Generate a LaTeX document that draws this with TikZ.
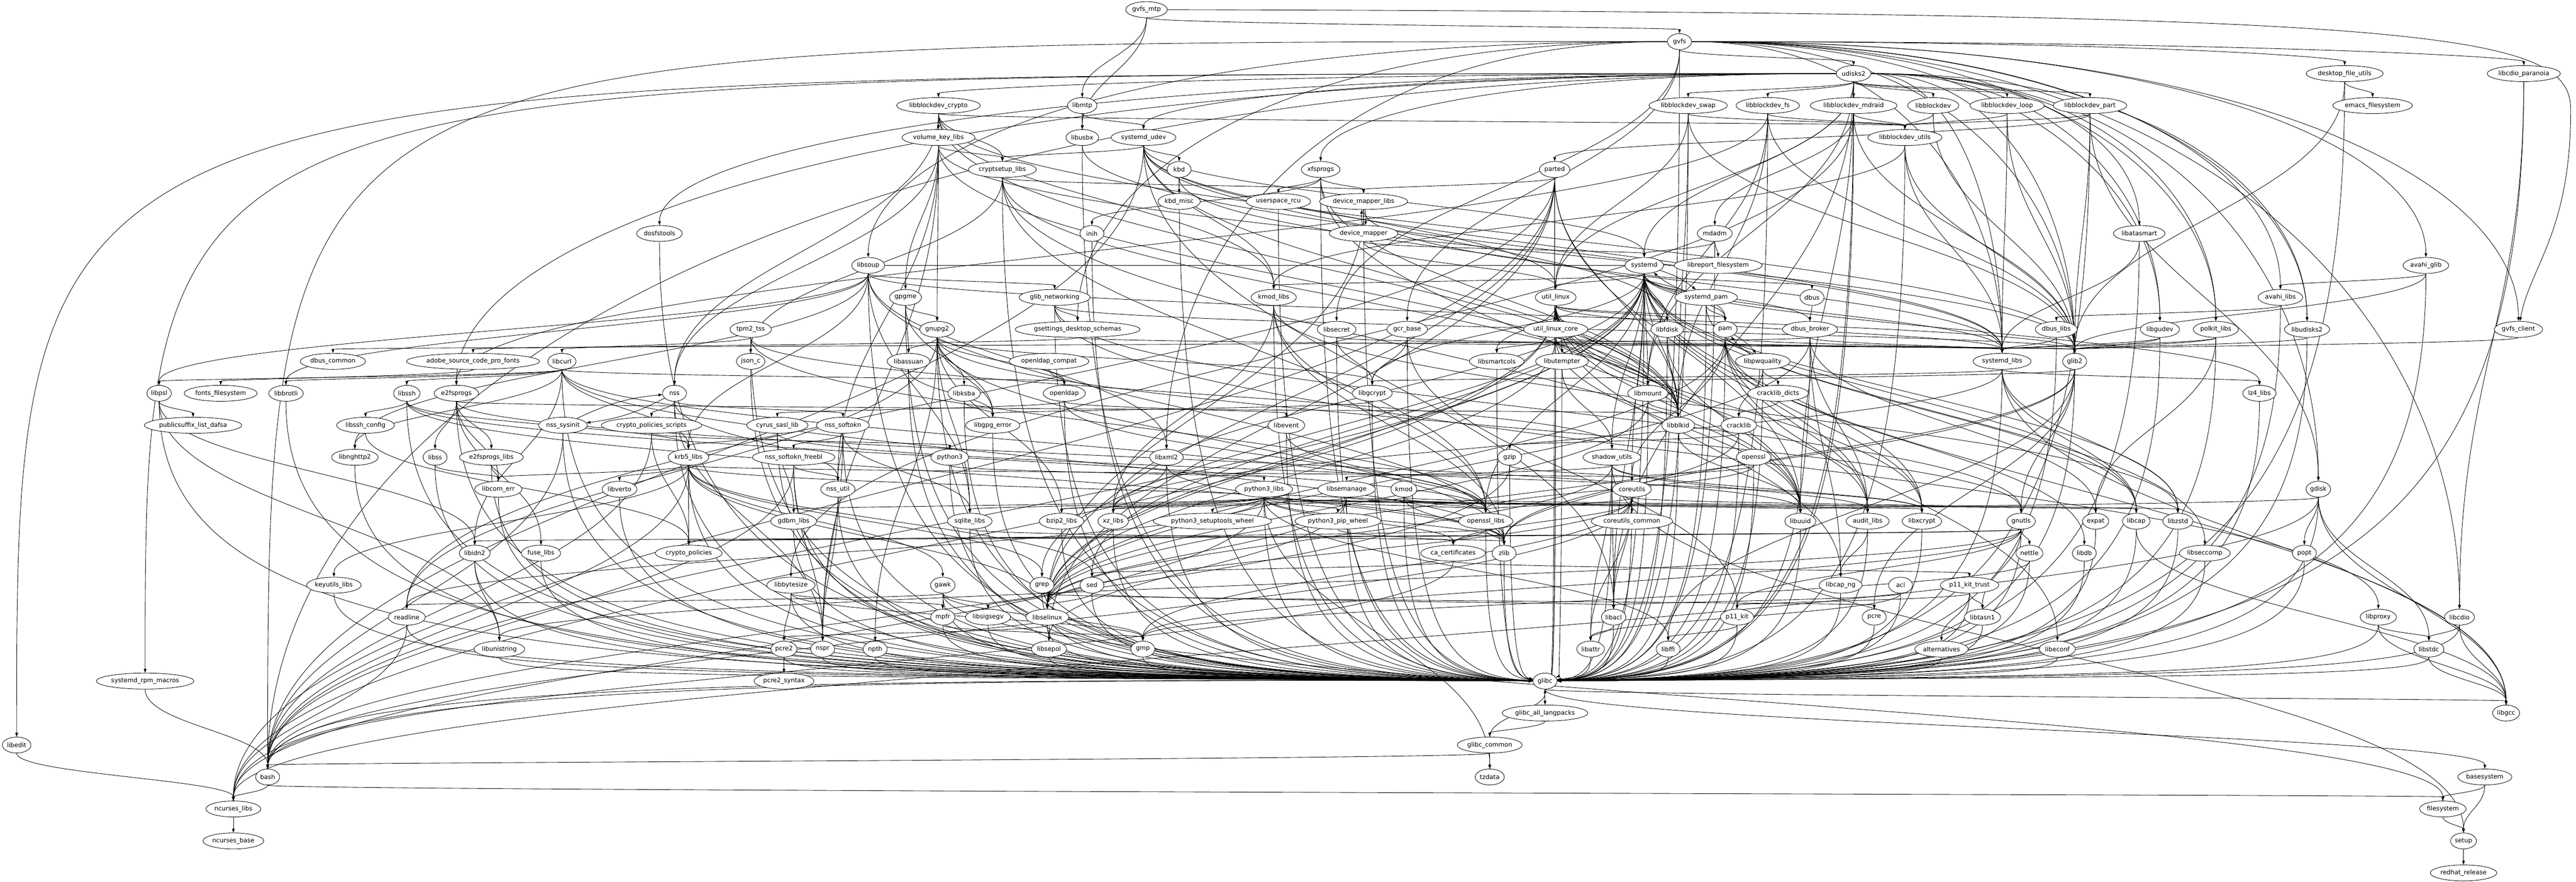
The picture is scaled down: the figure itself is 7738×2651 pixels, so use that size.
\documentclass[tikz,border=0pt]{standalone}
\usepackage{fontspec}
\setmainfont{DejaVu Sans}
\usetikzlibrary{shapes.geometric,arrows.meta,calc}
\pgfdeclarelayer{bg}
\pgfsetlayers{bg,main}
\newcommand\nd[3]{\node[pk] (#1) at (#2,{-(29+96.1*#3)}) {\detokenize{#1}};}
\newcommand\E[2]{\foreach \myh in {#2}{\draw[e] let \p1=(#1), \p2=(\myh), \n1={0.45*(\y1-\y2)}, \n2={-0.45*(\y1-\y2)} in (#1) .. controls +(0pt,\n2) and +(0pt,\n1) .. (\myh);}}
\newcommand\Sw[2]{\foreach \myh in {#2}{\draw[e] let \p1=(#1), \p2=(\myh), \n1={0.5*(\y1-\y2)}, \n3={0.7*(\x2-\x1)} in (#1) .. controls +(\n3,0pt) and +(0pt,\n1) .. (\myh);}}
\newcommand\G[1]{\foreach \myt in {#1}{\draw[e] let \p1=(\myt), \p2=(glibc), \n1={-0.85*(\y1-\y2)}, \n2={-0.75*(\x2-\x1)} in (\myt) .. controls +(0pt,\n1) and +(\n2,10pt) .. (glibc);}}
\newcommand\Lr[2]{\draw[e] let \p1=(#1), \p2=(#2) in (#1) .. controls (\x2,\y1) and (\x2,\y1) .. (#2);}
\newcommand\M[2]{\draw[e] (#1) to[bend left=10] (#2); \draw[e] (#2) to[bend left=10] (#1);}
\begin{document}
\begin{tikzpicture}[x=0.749pt,y=0.749pt,
  pk/.style={ellipse,draw,line width=1pt,fill=white,inner xsep=1pt,inner ysep=1pt,minimum width=54pt,minimum height=36pt,font=\fontsize{14}{16}\selectfont},
  e/.style={line width=1pt,-{Triangle[length=9pt,width=6pt]}}]
\useasboundingbox (0,0) rectangle (7738,-2651);
% rank 0-2
\nd{gvfs_mtp}{3444}{0}
\nd{gvfs}{5045}{1}
\nd{udisks2}{5568}{2}
\nd{desktop_file_utils}{7043}{2}
\nd{libcdio_paranoia}{7581}{2}
% rank 3
\nd{libblockdev_crypto}{2819}{3}
\nd{libmtp}{3251}{3}
\nd{libblockdev_swap}{5071}{3}
\nd{libblockdev_fs}{5310}{3}
\nd{libblockdev_mdraid}{5568}{3}
\nd{libblockdev}{5807}{3}
\nd{libblockdev_loop}{6029}{3}
\nd{libblockdev_part}{6278}{3}
\nd{emacs_filesystem}{7127}{3}
% rank 4
\nd{volume_key_libs}{2819}{4}
\nd{libusbx}{3251}{4}
\nd{systemd_udev}{3435}{4}
\nd{libblockdev_utils}{5722}{4}
% rank 5
\nd{cryptsetup_libs}{3011}{5}
\nd{kbd}{3542}{5}
\nd{xfsprogs}{3967}{5}
\nd{parted}{4670}{5}
% rank 6
\nd{kbd_misc}{3542}{6}
\nd{userspace_rcu}{3840}{6}
\nd{device_mapper_libs}{4096}{6}
% rank 7
\nd{dosfstools}{1981}{7}
\nd{inih}{3280}{7}
\nd{device_mapper}{4096}{7}
\nd{mdadm}{5151}{7}
\nd{libatasmart}{6426}{7}
% rank 8
\nd{libsoup}{2608}{8}
\nd{systemd}{4939}{8}
\nd{libreport_filesystem}{5161}{8}
\nd{avahi_glib}{7287}{8}
% rank 9
\nd{gpgme}{2720}{9}
\nd{glib_networking}{3168}{9}
\nd{kmod_libs}{3826}{9}
\nd{util_linux}{4673}{9}
\nd{systemd_pam}{5125}{9}
\nd{dbus}{5443}{9}
\nd{avahi_libs}{6850}{9}
% rank 10
\nd{tpm2_tss}{2255}{10}
\nd{gnupg2}{2815}{10}
\nd{gsettings_desktop_schemas}{3237}{10}
\nd{libsecret}{4015}{10}
\nd{gcr_base}{4227}{10}
\nd{util_linux_core}{4673}{10}
\nd{libfdisk}{5008}{10}
\nd{pam}{5182}{10}
\nd{dbus_broker}{5437}{10}
\nd{dbus_libs}{6177}{10}
\nd{libgudev}{6488}{10}
\nd{polkit_libs}{6656}{10}
\nd{libudisks2}{6930}{10}
\nd{gvfs_client}{7565}{10}
% rank 11
\nd{dbus_common}{1000}{11}
\nd{adobe_source_code_pro_fonts}{1421}{11}
\nd{libcurl}{1688}{11}
\nd{json_c}{2255}{11}
\nd{libassuan}{2729}{11}
\nd{openldap_compat}{3151}{11}
\nd{libsmartcols}{4496}{11}
\nd{libutempter}{4692}{11}
\nd{libpwquality}{5295}{11}
\nd{systemd_libs}{6014}{11}
\nd{glib2}{6232}{11}
% rank 12
\nd{libpsl}{478}{12}
\nd{fonts_filesystem}{663}{12}
\nd{libbrotli}{859}{12}
\nd{libssh}{1222}{12}
\nd{e2fsprogs}{1371}{12}
\nd{nss}{2026}{12}
\nd{libksba}{2896}{12}
\nd{openldap}{3197}{12}
\nd{libgcrypt}{4122}{12}
\nd{libmount}{4950}{12}
\nd{cracklib_dicts}{5341}{12}
\nd{lz4_libs}{6787}{12}
% rank 13
\nd{publicsuffix_list_dafsa}{580}{13}
\nd{libssh_config}{1098}{13}
\nd{nss_sysinit}{1691}{13}
\nd{crypto_policies_scripts}{1957}{13}
\nd{cyrus_sasl_lib}{2335}{13}
\nd{nss_softokn}{2532}{13}
\nd{libgpg_error}{2982}{13}
\nd{libevent}{3864}{13}
\nd{libblkid}{5041}{13}
\nd{cracklib}{5223}{13}
% rank 14
\nd{libnghttp2}{1066}{14}
\nd{libss}{1307}{14}
\nd{e2fsprogs_libs}{1476}{14}
\nd{krb5_libs}{2068}{14}
\nd{nss_softokn_freebl}{2384}{14}
\nd{python3}{2853}{14}
\nd{libxml2}{3504}{14}
\nd{gzip}{4535}{14}
\nd{shadow_utils}{4842}{14}
\nd{openssl}{5268}{14}
% rank 15
\nd{libcom_err}{1497}{15}
\nd{libverto}{1861}{15}
\nd{nss_util}{2517}{15}
\nd{python3_libs}{3797}{15}
\nd{libsemanage}{4045}{15}
\nd{kmod}{4217}{15}
\nd{coreutils}{4902}{15}
\nd{gdisk}{6964}{15}
% rank 16
\nd{gdbm_libs}{2384}{16}
\nd{sqlite_libs}{2913}{16}
\nd{bzip2_libs}{3189}{16}
\nd{xz_libs}{3344}{16}
\nd{python3_setuptools_wheel}{3642}{16}
\nd{python3_pip_wheel}{4019}{16}
\nd{openssl_libs}{4463}{16}
\nd{coreutils_common}{4902}{16}
\nd{libuuid}{5408}{16}
\nd{audit_libs}{5610}{16}
\nd{libxcrypt}{5773}{16}
\nd{gnutls}{6071}{16}
\nd{expat}{6295}{16}
\nd{libcap}{6417}{16}
\nd{libzstd}{6542}{16}
% rank 17
\nd{libidn2}{1426}{17}
\nd{fuse_libs}{1625}{17}
\nd{crypto_policies}{2069}{17}
\nd{ca_certificates}{4365}{17}
\nd{zlib}{4518}{17}
\nd{nettle}{6096}{17}
\nd{libdb}{6261}{17}
\nd{libseccomp}{6623}{17}
\nd{popt}{6922}{17}
% rank 18
\nd{keyutils_libs}{1003}{18}
\nd{libbytesize}{2376}{18}
\nd{gawk}{2832}{18}
\nd{grep}{3130}{18}
\nd{sed}{3280}{18}
\nd{libcap_ng}{5529}{18}
\nd{acl}{5709}{18}
\nd{p11_kit_trust}{5916}{18}
% rank 19
\nd{readline}{1222}{19}
\nd{mpfr}{2832}{19}
\nd{libsigsegv}{2968}{19}
\nd{libselinux}{3146}{19}
\nd{libacl}{4847}{19}
\nd{p11_kit}{5218}{19}
\nd{pcre}{5630}{19}
\nd{libtasn1}{5955}{19}
\nd{libproxy}{7144}{19}
\nd{libcdio}{7388}{19}
% rank 20
\nd{libunistring}{1500}{20}
\nd{pcre2}{2355}{20}
\nd{nspr}{2471}{20}
\nd{npth}{2629}{20}
\nd{libsepol}{3151}{20}
\nd{gmp}{3433}{20}
\nd{libattr}{4778}{20}
\nd{libffi}{5011}{20}
\nd{alternatives}{5832}{20}
\nd{libeconf}{6180}{20}
\nd{libstdc}{7296}{20}
% rank 21-27
\nd{systemd_rpm_macros}{436}{21}
\nd{pcre2_syntax}{2355}{21}
\nd{glibc}{4641}{21}
\nd{glibc_all_langpacks}{4641}{22}
\nd{libgcc}{7528}{22}
\nd{libedit}{50}{23}
\nd{glibc_common}{4475}{23}
\nd{bash}{804}{24}
\nd{tzdata}{4475}{24}
\nd{basesystem}{7464}{24}
\nd{ncurses_libs}{701}{25}
\nd{filesystem}{7338}{25}
\nd{ncurses_base}{701}{26}
\nd{setup}{7400}{26}
\nd{redhat_release}{7400}{27}

\begin{pgfonlayer}{bg}
\fill[white] (0,0) rectangle (7738,-2651);
\E{gvfs_mtp}{gvfs,libmtp,libusbx}
\draw[e] (gvfs_mtp) .. controls (7300,-38) and (7722,-90) .. (7722,-330) .. controls (7722,-700) and (7600,-800) .. (gvfs_client);
\E{gvfs}{udisks2,libsecret,gcr_base}
\Sw{gvfs}{libsoup,gsettings_desktop_schemas,libxml2,desktop_file_utils,libcdio_paranoia,avahi_glib,avahi_libs,gvfs_client,glib2,libudisks2,polkit_libs,libgudev,systemd_libs,libcdio}
\E{udisks2}{libblockdev_swap,libblockdev_fs,libblockdev_mdraid,libblockdev,libblockdev_loop,libblockdev_part,util_linux,libacl,libmount,libuuid,systemd}
\Sw{udisks2}{libblockdev_crypto,dosfstools,e2fsprogs,systemd_udev,xfsprogs,bash,libatasmart,libudisks2,libgudev,polkit_libs,glib2,systemd_libs,gdisk}
\Lr{gvfs}{bash}
\Lr{udisks2}{libedit}
\Lr{udisks2}{systemd_rpm_macros}
\E{libblockdev_crypto}{libblockdev_utils,volume_key_libs,cryptsetup_libs,kmod_libs,nss,glib2,libblkid}
\E{libmtp}{libusbx,systemd_udev}
\E{volume_key_libs}{cryptsetup_libs,gpgme,gnupg2,nss,nss_util,nspr,glib2,libblkid}
\E{libusbx}{systemd_libs}
\E{systemd_udev}{cryptsetup_libs,kbd,systemd,kmod_libs,systemd_libs,util_linux,libblkid,libfdisk,libacl,bash}
\E{libblockdev_swap}{libblockdev_utils,libblkid,glib2,util_linux}
\E{libblockdev_fs}{libblockdev_utils,libblkid,libmount,glib2,e2fsprogs}
\E{libblockdev_mdraid}{libblockdev_utils,mdadm,libbytesize,glib2}
\E{libblockdev}{libblockdev_utils,glib2}
\E{libblockdev_loop}{libblockdev_utils,glib2,systemd_libs}
\E{libblockdev_part}{libblockdev_utils,parted,gdisk,glib2}
\E{libblockdev_utils}{kmod_libs,glib2,systemd_libs}
\E{desktop_file_utils}{emacs_filesystem,glib2}
\E{libcdio_paranoia}{libcdio}
\E{cryptsetup_libs}{device_mapper_libs,json_c,libuuid,libblkid,openssl_libs}
\E{kbd}{kbd_misc,pam}
\E{xfsprogs}{device_mapper_libs,userspace_rcu,inih,libblkid,libuuid}
\E{parted}{device_mapper_libs,libblkid,libuuid,readline,ncurses_libs,libselinux,libsepol}
\M{device_mapper_libs}{device_mapper}
\E{device_mapper}{systemd,util_linux}
\E{device_mapper_libs}{libselinux,systemd_libs}
\E{mdadm}{systemd,libreport_filesystem}
\E{libatasmart}{systemd_libs}
\E{libsoup}{glib_networking,libpsl,libxml2,sqlite_libs,krb5_libs,libbrotli,glib2,libnghttp2,systemd,zlib}
\E{systemd}{util_linux,libfdisk,pam,dbus,libmount,libblkid,kmod_libs,systemd_libs,lz4_libs,libzstd,xz_libs,openssl_libs,libcap,libacl,libseccomp,libxcrypt,audit_libs,libgcrypt,libselinux,shadow_utils,coreutils,grep,sed,bash,libgcc}
\M{systemd}{systemd_pam}
\E{avahi_glib}{avahi_libs,glib2}
\E{gpgme}{gnupg2,libassuan,libgpg_error}
\E{glib_networking}{gsettings_desktop_schemas,glib2,gnutls,libproxy}
\E{kmod_libs}{libzstd,xz_libs,openssl_libs,zlib}
\E{util_linux}{util_linux_core,libfdisk,libmount,libblkid,libsmartcols,libutempter,libuuid,pam,audit_libs,libcap_ng,libselinux,systemd_libs,ncurses_libs,libxcrypt}
\E{systemd_pam}{pam,libcap}
\E{dbus}{dbus_broker}
\E{avahi_libs}{dbus_libs}
\E{tpm2_tss}{json_c,libcurl,openssl_libs,shadow_utils}
\E{gnupg2}{libassuan,libgcrypt,libgpg_error,libksba,npth,openldap,gnutls,sqlite_libs,bzip2_libs,zlib,readline}
\E{gsettings_desktop_schemas}{glib2,adobe_source_code_pro_fonts}
\E{libsecret}{libgcrypt,glib2}
\E{gcr_base}{libgcrypt,glib2,p11_kit}
\E{util_linux_core}{libmount,libblkid,libsmartcols,libutempter,libuuid,libselinux,systemd_libs}
\E{libfdisk}{libblkid,libuuid}
\M{pam}{libpwquality}
\E{pam}{libxcrypt,audit_libs,libeconf,libselinux,libdb,coreutils,systemd_libs}
\E{dbus_broker}{dbus_common,systemd_libs,audit_libs,libcap_ng,expat,libselinux,systemd}
\E{dbus_libs}{systemd_libs}
\E{libgudev}{glib2,systemd_libs}
\E{polkit_libs}{glib2,systemd_libs,expat}
\E{libudisks2}{glib2}
\E{gvfs_client}{glib2}
\E{adobe_source_code_pro_fonts}{fonts_filesystem}
\E{libcurl}{libpsl,libbrotli,libssh,libnghttp2,libidn2,krb5_libs,openldap,openssl_libs,zlib}
\E{libassuan}{libgpg_error}
\E{openldap_compat}{openldap}
\E{libutempter}{shadow_utils}
\E{libpwquality}{cracklib,cracklib_dicts}
\E{systemd_libs}{libcap,libgcrypt,lz4_libs,xz_libs,libzstd,libgcc}
\E{glib2}{libffi,pcre,libmount,libselinux,zlib,gnutls}
\E{libpsl}{publicsuffix_list_dafsa,libidn2,libunistring}
\E{libssh}{libssh_config,krb5_libs,openssl_libs,zlib}
\E{e2fsprogs}{e2fsprogs_libs,libss,libcom_err,libblkid,libuuid,fuse_libs}
\M{nss}{nss_sysinit}
\E{nss}{crypto_policies_scripts,nss_softokn,nss_util,nspr}
\E{libksba}{libgpg_error}
\E{openldap}{cyrus_sasl_lib,libevent,openssl_libs}
\E{libgcrypt}{libgpg_error}
\E{libmount}{libblkid,libselinux}
\E{cracklib_dicts}{cracklib}
\E{libssh_config}{crypto_policies}
\E{nss_sysinit}{bash}
\E{crypto_policies_scripts}{crypto_policies,python3,bash}
\E{cyrus_sasl_lib}{krb5_libs,gdbm_libs,libxcrypt}
\E{nss_softokn}{nss_softokn_freebl,nss_util,nspr,sqlite_libs}
\E{libevent}{openssl_libs}
\E{libblkid}{libuuid}
\E{cracklib}{zlib,gzip}
\E{libss}{libcom_err}
\E{e2fsprogs_libs}{libcom_err}
\E{krb5_libs}{libcom_err,libverto,keyutils_libs,openssl_libs,libselinux,crypto_policies,coreutils,gawk,grep,sed,bash}
\E{nss_softokn_freebl}{nss_util,nspr,bash}
\E{python3}{python3_libs}
\E{libxml2}{xz_libs,zlib}
\E{gzip}{coreutils,bash}
\E{shadow_utils}{libsemanage,audit_libs,libacl,libattr,libxcrypt,libselinux,setup}
\E{openssl}{openssl_libs,coreutils}
\E{nss_util}{nspr}
\E{python3_libs}{sqlite_libs,bzip2_libs,xz_libs,python3_setuptools_wheel,python3_pip_wheel,openssl_libs,ca_certificates,zlib,libffi,expat,gdbm_libs,libuuid,libxcrypt,readline,ncurses_libs,tzdata}
\E{libsemanage}{libselinux,libsepol,bzip2_libs,audit_libs}
\E{kmod}{openssl_libs,xz_libs,zlib,libzstd}
\E{coreutils}{coreutils_common,libacl,libattr,libcap,openssl_libs,gmp,libselinux,bash}
\E{gdisk}{libuuid,popt,ncurses_libs,libstdc,libgcc}
\E{sqlite_libs}{zlib}
\E{python3_pip_wheel}{ca_certificates}
\E{openssl_libs}{ca_certificates,crypto_policies,zlib}
\E{audit_libs}{libcap_ng}
\E{gnutls}{nettle,p11_kit,libtasn1,libidn2,libunistring,gmp,crypto_policies}
\E{libcap}{libgcc}
\E{libidn2}{libunistring}
\E{ca_certificates}{p11_kit_trust,bash,coreutils,sed}
\E{nettle}{gmp}
\E{libbytesize}{mpfr,gmp,pcre2}
\E{gawk}{mpfr,gmp,libsigsegv,readline,filesystem}
\E{grep}{pcre,libsigsegv}
\E{sed}{libselinux,libacl}
\E{acl}{libacl,libattr}
\E{p11_kit_trust}{p11_kit,libtasn1,alternatives}
\E{readline}{ncurses_libs}
\E{mpfr}{gmp}
\E{libselinux}{libsepol,pcre2}
\E{libacl}{libattr}
\E{p11_kit}{libffi}
\E{libproxy}{libstdc,libgcc}
\E{libcdio}{libstdc,libgcc}
\E{pcre2}{pcre2_syntax}
\E{libstdc}{libgcc}
\E{systemd_rpm_macros}{bash}
\E{glibc}{glibc_all_langpacks,basesystem,libgcc}
\E{glibc_all_langpacks}{glibc_common}
\E{glibc_common}{tzdata,bash,glibc}
\E{libedit}{ncurses_libs}
\E{bash}{ncurses_libs,filesystem}
\E{ncurses_libs}{ncurses_base}
\E{basesystem}{filesystem,setup}
\E{filesystem}{setup}
\E{setup}{redhat_release}
\G{dosfstools,inih,libsoup,gpgme,glib_networking,kmod_libs,util_linux,tpm2_tss,gnupg2,libsecret,gcr_base,util_linux_core,libfdisk,libcurl,json_c,libassuan,libsmartcols,libutempter,libpsl,libbrotli,libssh,e2fsprogs,nss,libksba,openldap,libgcrypt,libmount,nss_sysinit,cyrus_sasl_lib,nss_softokn,libgpg_error,libevent,libblkid,libnghttp2,libss,e2fsprogs_libs,krb5_libs,nss_softokn_freebl,python3,libxml2,gzip,libcom_err,libverto,nss_util,python3_libs,libsemanage,kmod,gdbm_libs,sqlite_libs,bzip2_libs,xz_libs,openssl_libs,libidn2,fuse_libs,zlib,keyutils_libs,libbytesize,gawk,grep,sed,readline,mpfr,libsigsegv,libselinux,libunistring,pcre2,nspr,npth,libsepol,gmp,libattr,bash,ncurses_libs,cryptsetup_libs,device_mapper_libs,userspace_rcu,xfsprogs,parted,kbd,libusbx,libacl}
\G{udisks2,libblockdev_swap,libblockdev_fs,libblockdev_mdraid,libblockdev_part,libblockdev_utils,mdadm,libatasmart,systemd,systemd_pam,dbus_broker,dbus_libs,libgudev,polkit_libs,libudisks2,libpwquality,systemd_libs,glib2,lz4_libs,cracklib,shadow_utils,openssl,coreutils,gdisk,libuuid,audit_libs,libxcrypt,gnutls,expat,libcap,libzstd,nettle,libdb,libseccomp,popt,libcap_ng,acl,p11_kit_trust,p11_kit,pcre,libtasn1,libproxy,libcdio,libffi,alternatives,libeconf,libstdc,avahi_libs,avahi_glib,libcdio_paranoia,desktop_file_utils,pam,gvfs}
\end{pgfonlayer}
\end{tikzpicture}
\end{document}
